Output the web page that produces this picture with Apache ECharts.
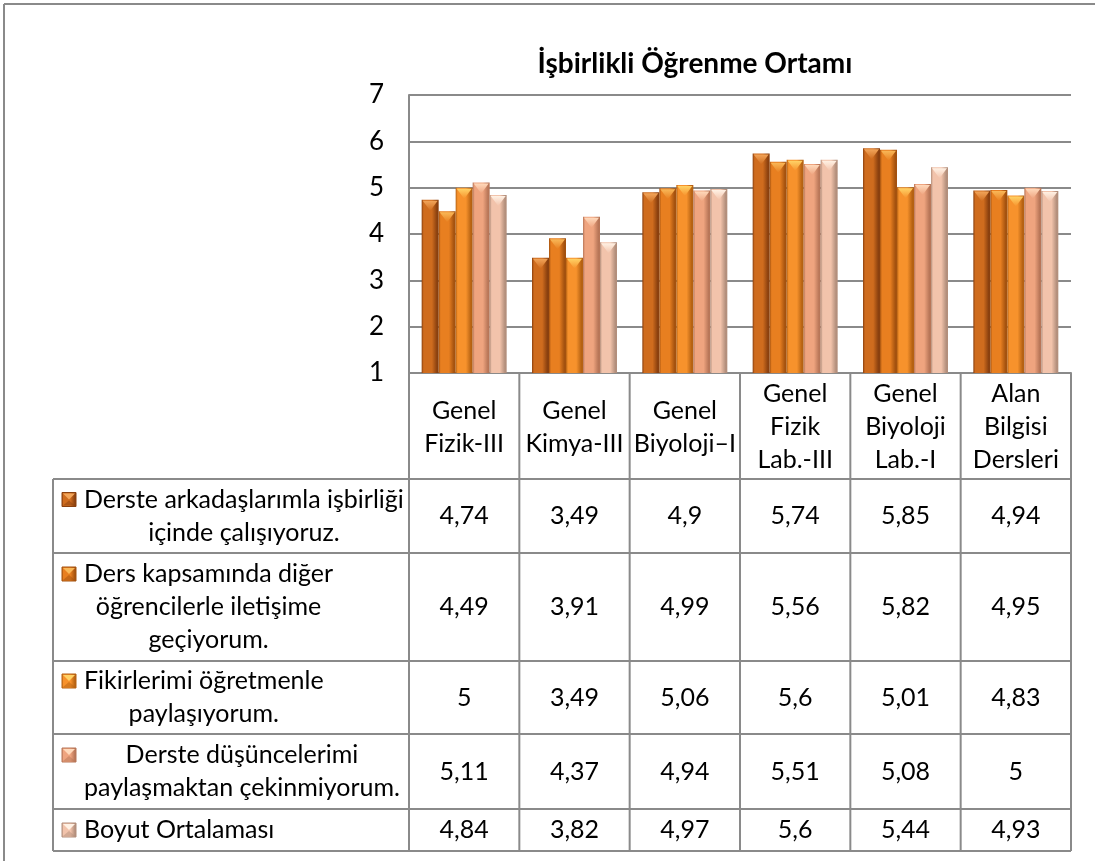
<!DOCTYPE html>
<html><head><meta charset="utf-8">
<script src="https://cdn.jsdelivr.net/npm/echarts@6/dist/echarts.min.js"></script>
<style>html,body{margin:0;padding:0;background:#fff}#c{width:1095px;height:861px}</style>
</head><body><div id="c"></div>
<script>
// ---- data ----
const titleText = 'İşbirlikli Öğrenme Ortamı';
const categories = ['Genel\nFizik-III', 'Genel\nKimya-III', 'Genel\nBiyoloji–I', 'Genel\nFizik\nLab.-III', 'Genel\nBiyoloji\nLab.-I', 'Alan\nBilgisi\nDersleri'];
const seriesLabels = [
  'Derste arkadaşlarımla işbirliği\niçinde çalışıyoruz.',
  'Ders kapsamında diğer\nöğrencilerle iletişime\ngeçiyorum.',
  'Fikirlerimi öğretmenle\npaylaşıyorum.',
  'Derste düşüncelerimi\npaylaşmaktan çekinmiyorum.',
  'Boyut Ortalaması'
];
const s1 = [4.74, 3.49, 4.9, 5.74, 5.85, 4.94];
const s2 = [4.49, 3.91, 4.99, 5.56, 5.82, 4.95];
const s3 = [5, 3.49, 5.06, 5.6, 5.01, 4.83];
const s4 = [5.11, 4.37, 4.94, 5.51, 5.08, 5];
const s5 = [4.84, 3.82, 4.97, 5.6, 5.44, 4.93];
const yMin = 1, yMax = 7, yStep = 1;

// ---- styles ----
const seriesValues = [s1, s2, s3, s4, s5];
const palette = [
  {edge: '#8a400f', mid: '#cf6c1e', cap: '#f2a55a'},
  {edge: '#a4520f', mid: '#e87f20', cap: '#f9b858'},
  {edge: '#b66212', mid: '#f7922c', cap: '#ffd266'},
  {edge: '#b87658', mid: '#efa47f', cap: '#ffd9bb'},
  {edge: '#b38f7c', mid: '#f2c3ab', cap: '#fff1e4'}
];
const FONT = 'Lato';
const FS = 25;
const LINE = 33;
const GRID = '#8a8a8a';
const BAR_W = 17;

function grad(p) {
  return {type: 'linear', x: 0, y: 0, x2: 1, y2: 0, colorStops: [
    {offset: 0, color: p.edge}, {offset: 0.12, color: p.mid},
    {offset: 0.6, color: p.mid}, {offset: 0.9, color: p.edge}, {offset: 1, color: p.edge}
  ]};
}

const series = [];
seriesValues.forEach((vals, i) => {
  series.push({
    type: 'bar', name: 'S' + i, data: vals, barWidth: BAR_W, barGap: '0%',
    itemStyle: {color: grad(palette[i]), shadowBlur: 3, shadowColor: 'rgba(0,0,0,0.3)', shadowOffsetX: 1, shadowOffsetY: 1},
    z: 2, silent: true
  });
});
seriesValues.forEach((vals, i) => {
  series.push({
    type: 'pictorialBar', name: 'C' + i, data: vals, barWidth: BAR_W, barGap: '0%',
    symbol: 'path://M0,0 L20,0 L10,10 Z', symbolSize: [BAR_W - 2, 10], symbolPosition: 'end',
    symbolOffset: [0, 1],
    itemStyle: {color: {type: 'linear', x: 0, y: 0, x2: 0, y2: 1, colorStops: [
      {offset: 0, color: palette[i].cap}, {offset: 1, color: palette[i].mid}]}},
    z: 3, silent: true
  });
});

const chart = echarts.init(document.getElementById('c'));
chart.setOption({
  animation: false,
  backgroundColor: '#fff',
  title: {text: titleText, left: 690, top: 45, textAlign: 'center',
    textStyle: {fontFamily: FONT, fontSize: 28, fontWeight: 'bold', color: '#000'}},
  grid: {left: 409, right: 24, top: 95, bottom: 488},
  xAxis: {type: 'category', data: categories,
    axisLine: {show: true, lineStyle: {color: GRID, width: 2}},
    axisTick: {show: false},
    axisLabel: {interval: 0, margin: 54, verticalAlign: 'middle', lineHeight: LINE,
      fontFamily: FONT, fontSize: FS, color: '#000'}},
  yAxis: {type: 'value', min: yMin, max: yMax, interval: yStep,
    axisLine: {show: true, lineStyle: {color: GRID, width: 2}},
    axisTick: {show: false},
    splitLine: {lineStyle: {color: GRID, width: 2}},
    axisLabel: {margin: 25, fontFamily: FONT, fontSize: 26, color: '#000'}},
  series: series
});

// ---- data table drawn below the axis ----
const c0 = chart.convertToPixel({xAxisIndex: 0}, 0);
const c1 = chart.convertToPixel({xAxisIndex: 0}, 1);
const band = c1 - c0;
const gx0 = c0 - band / 2;
const gx1 = gx0 + band * categories.length;
const axisY = chart.convertToPixel({yAxisIndex: 0}, yMin);
const topY = chart.convertToPixel({yAxisIndex: 0}, yMax);
const tableLeft = 53;
const rowBounds = [axisY + 106, 553, 661, 734, 809, 851];
const lineStyle = {stroke: GRID, lineWidth: 2};
const g = [];
// outer frame
g.push({type: 'line', shape: {x1: 4, y1: 4, x2: 1095, y2: 4}, style: lineStyle, silent: true});
g.push({type: 'line', shape: {x1: 4, y1: 4, x2: 4, y2: 861}, style: lineStyle, silent: true});
// horizontal table lines
rowBounds.forEach(y => g.push({type: 'line', shape: {x1: tableLeft, y1: y, x2: gx1, y2: y}, style: lineStyle, silent: true}));
// vertical lines
g.push({type: 'line', shape: {x1: tableLeft, y1: rowBounds[0], x2: tableLeft, y2: rowBounds[5]}, style: lineStyle, silent: true});
g.push({type: 'line', shape: {x1: gx0, y1: topY, x2: gx0, y2: rowBounds[5]}, style: lineStyle, silent: true});
for (let k = 1; k <= categories.length; k++) {
  const x = gx0 + band * k;
  g.push({type: 'line', shape: {x1: x, y1: axisY, x2: x, y2: rowBounds[5]}, style: lineStyle, silent: true});
}
const ctx = document.createElement('canvas').getContext('2d');
ctx.font = FS + 'px ' + FONT;
seriesLabels.forEach((lab, i) => {
  const yTop = rowBounds[i], yBot = rowBounds[i + 1];
  const yc = (yTop + yBot) / 2;
  const lines = lab.split('\n');
  const maxW = Math.max.apply(null, lines.map(l => ctx.measureText(l).width));
  const firstLineY = yc - (lines.length - 1) * LINE / 2;
  const tx = 84;
  g.push({type: 'text', x: tx + maxW / 2, y: yc, silent: true,
    style: {text: lab, fill: '#000', font: FS + 'px ' + FONT, textAlign: 'center', textVerticalAlign: 'middle', lineHeight: LINE}});
  // legend key
  const p = palette[i];
  const kx = 62, ky = firstLineY - 7;
  g.push({type: 'rect', shape: {x: kx, y: ky, width: 14, height: 14}, silent: true,
    style: {fill: grad(p), stroke: p.edge, lineWidth: 1}});
  g.push({type: 'polygon', shape: {points: [[kx + 1, ky + 1], [kx + 13, ky + 1], [kx + 7, ky + 7]]}, silent: true,
    style: {fill: p.cap}});
  g.push({type: 'polygon', shape: {points: [[kx + 1, ky + 13], [kx + 13, ky + 13], [kx + 7, ky + 8]]}, silent: true,
    style: {fill: p.edge, opacity: 0.5}});
  // values
  seriesValues[i].forEach((v, j) => {
    g.push({type: 'text', x: gx0 + band * (j + 0.5), y: yc, silent: true,
      style: {text: String(v).replace('.', ','), fill: '#000', font: FS + 'px ' + FONT, textAlign: 'center', textVerticalAlign: 'middle'}});
  });
});
chart.setOption({graphic: {elements: g}});
</script>
</body></html>
